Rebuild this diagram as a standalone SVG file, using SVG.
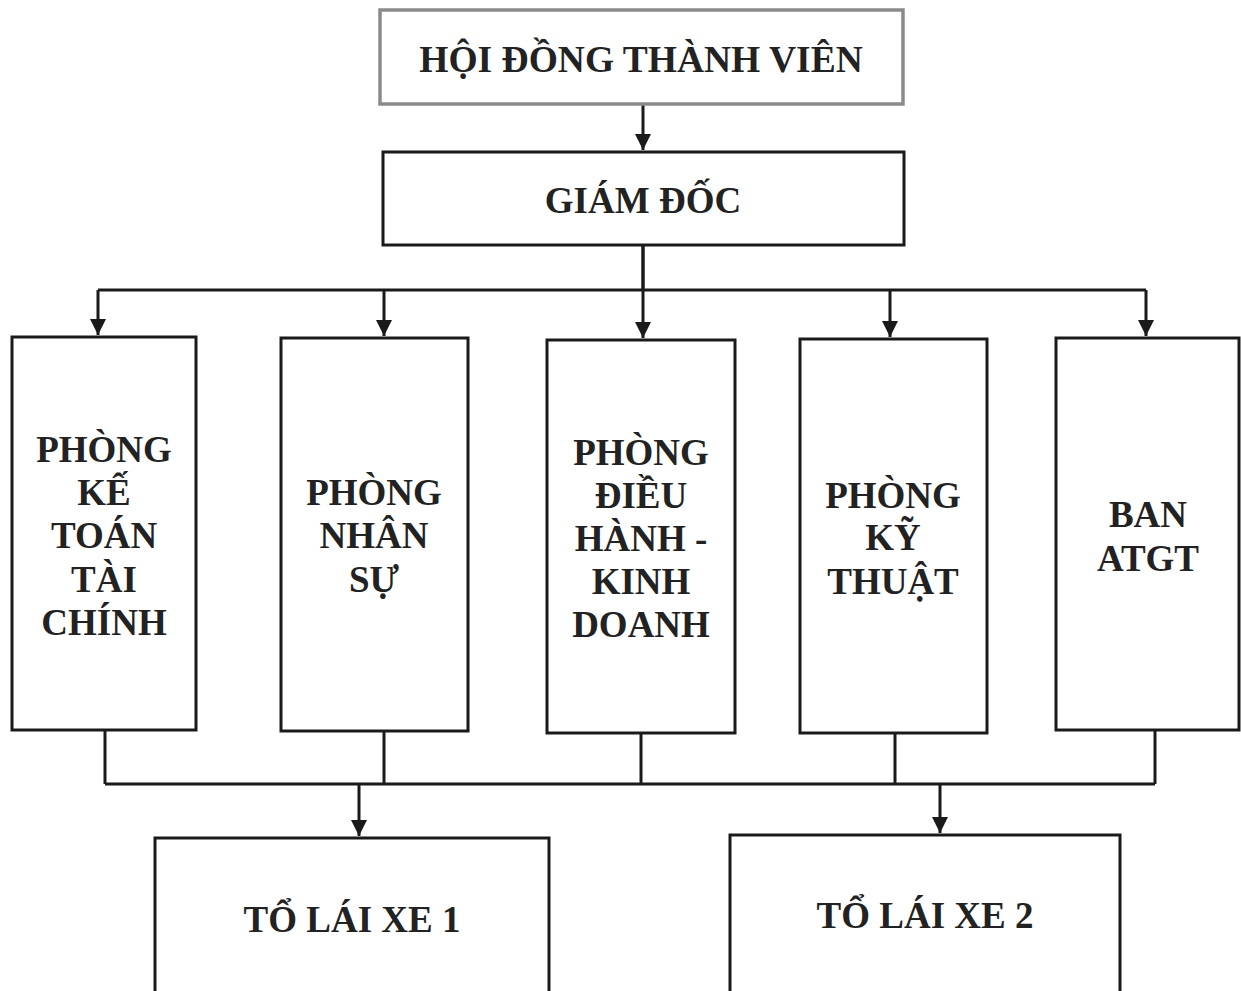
<svg xmlns="http://www.w3.org/2000/svg" width="1241" height="991" viewBox="0 0 1241 991">
<style>
.box{fill:#fff;stroke:#1a1a1a;stroke-width:3}
.top{fill:#fff;stroke:#8a8a8a;stroke-width:3.5}
.t{font-family:"Liberation Serif","Times New Roman",serif;font-weight:bold;font-size:37px;fill:#222;text-anchor:middle}
.ln{fill:none;stroke:#1a1a1a;stroke-width:3}
</style>
<defs>
<marker id="ah2" viewBox="0 0 10 10" refX="10" refY="5" markerWidth="16" markerHeight="16" orient="auto" markerUnits="userSpaceOnUse">
<path d="M0,0 L10,5 L0,10 Z" fill="#1a1a1a"/>
</marker>
</defs>
<rect width="1241" height="991" fill="#fff"/>
<g id="connectors">
<path class="ln" d="M643,104 V150" marker-end="url(#ah2)"/>
<path class="ln" d="M643,245 V290"/>
<path class="ln" d="M98,290 H1146"/>
<path class="ln" d="M98,290 V335" marker-end="url(#ah2)"/>
<path class="ln" d="M384,290 V336" marker-end="url(#ah2)"/>
<path class="ln" d="M643,245 V338" marker-end="url(#ah2)"/>
<path class="ln" d="M890,290 V337" marker-end="url(#ah2)"/>
<path class="ln" d="M1146,290 V336" marker-end="url(#ah2)"/>
<path class="ln" d="M105,730 V784"/>
<path class="ln" d="M384,731 V784"/>
<path class="ln" d="M641,733 V784"/>
<path class="ln" d="M895,733 V784"/>
<path class="ln" d="M1155,730 V784"/>
<path class="ln" d="M105,784 H1155"/>
<path class="ln" d="M359,784 V836" marker-end="url(#ah2)"/>
<path class="ln" d="M940,784 V833" marker-end="url(#ah2)"/>
</g>
<g id="hdtv">
<rect class="top" x="380" y="10" width="523" height="94"/>
<text class="t" x="641" y="72" style="font-size:37.5px">HỘI ĐỒNG THÀNH VIÊN</text>
</g>
<g id="giamdoc">
<rect class="box" x="383" y="152" width="521" height="93"/>
<text class="t" x="643" y="213">GIÁM ĐỐC</text>
</g>
<g id="ketoan">
<rect class="box" x="12" y="337" width="184" height="393"/>
<text class="t" x="104" y="462">PHÒNG</text>
<text class="t" x="104" y="505">KẾ</text>
<text class="t" x="104" y="548">TOÁN</text>
<text class="t" x="104" y="592">TÀI</text>
<text class="t" x="104" y="635">CHÍNH</text>
</g>
<g id="nhansu">
<rect class="box" x="281" y="338" width="187" height="393"/>
<text class="t" x="374" y="505">PHÒNG</text>
<text class="t" x="374" y="548">NHÂN</text>
<text class="t" x="374" y="592">SỰ</text>
</g>
<g id="dieuhanh">
<rect class="box" x="547" y="340" width="188" height="393"/>
<text class="t" x="641" y="465">PHÒNG</text>
<text class="t" x="641" y="508">ĐIỀU</text>
<text class="t" x="641" y="551">HÀNH -</text>
<text class="t" x="641" y="594">KINH</text>
<text class="t" x="641" y="637">DOANH</text>
</g>
<g id="kythuat">
<rect class="box" x="800" y="339" width="187" height="394"/>
<text class="t" x="893" y="508">PHÒNG</text>
<text class="t" x="893" y="550">KỸ</text>
<text class="t" x="893" y="594">THUẬT</text>
</g>
<g id="atgt">
<rect class="box" x="1056" y="338" width="183" height="392"/>
<text class="t" x="1148" y="527">BAN</text>
<text class="t" x="1148" y="571">ATGT</text>
</g>
<g id="tolaixe1">
<rect class="box" x="155" y="838" width="394" height="160"/>
<text class="t" x="352" y="932">TỔ LÁI XE 1</text>
</g>
<g id="tolaixe2">
<rect class="box" x="730" y="835" width="390" height="160"/>
<text class="t" x="925" y="928">TỔ LÁI XE 2</text>
</g>
</svg>
